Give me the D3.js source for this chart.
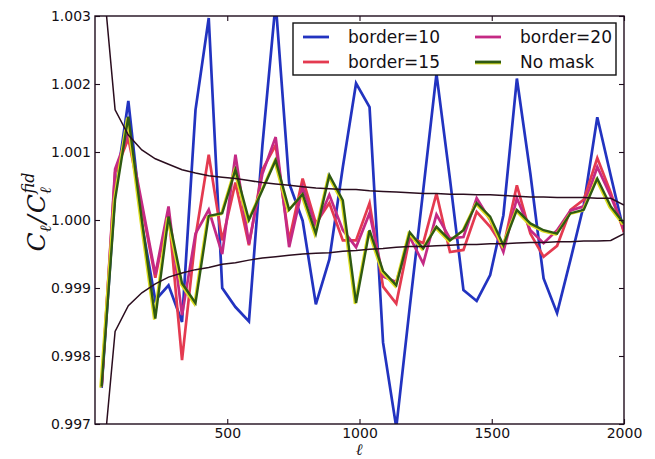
<!DOCTYPE html>
<html><head><meta charset="utf-8">
<script src="https://cdn.jsdelivr.net/npm/d3@7"></script>
<style>html,body{margin:0;padding:0;background:#fff;}svg{display:block;}</style>
</head><body>
<svg id="chart" width="655" height="459"></svg>
<script>
const ell = [25,76,126,177,228,278,329,380,430,481,531,582,633,683,734,785,835,886,937,987,1038,1089,1139,1190,1241,1291,1342,1393,1443,1494,1544,1595,1646,1696,1747,1798,1848,1899,1950,2000];
const border10 = [0.99753,1.0004,1.00175,0.99995,0.99882,0.99904,0.9985,1.00162,1.00297,0.999,0.99872,0.99851,1.0011,1.0032,1.00054,0.99999,0.99876,0.99942,1.00078,1.00201,1.00166,0.9982,0.99695,0.99872,1.00044,1.00215,1.0006,0.99897,0.99881,0.99919,1.00007,1.00208,1.00068,0.99914,0.99863,0.99942,1.00022,1.00151,1.00065,0.99982];
const border15 = [0.99755,1.0007,1.0012,1.0002,0.99915,1.00012,0.99794,0.99975,1.00096,0.9997,1.00055,0.99963,1.00074,1.0011,0.9997,1.00061,0.99995,1.00025,0.9997,0.9997,1.00025,0.99902,0.99877,0.99975,0.99966,1.00039,0.99953,0.99956,1.00012,0.9999,0.9996,1.00051,0.9998,0.99946,0.99962,1.00015,1.0003,1.00091,1.0004,0.99982];
const border20 = [0.99755,1.00075,1.00128,1.00025,0.9992,1.0002,0.9986,0.9998,1.00015,0.9995,1.00096,0.99965,1.00068,1.00122,0.9996,1.00048,0.9999,1.00037,0.99985,0.9996,1.0001,0.99917,0.99909,0.99975,0.99936,1.00008,0.99973,0.99975,1.00032,1.0,0.99953,1.00032,0.99985,0.99966,0.99985,1.00014,1.0002,1.00078,1.00035,0.99987];
const noMask = [0.99755,1.0003,1.00152,1.0,0.99855,1.00005,0.99907,0.99878,1.00006,1.0001,1.00074,1.0,1.00044,1.00088,1.00015,1.00038,0.9998,1.00066,1.00029,0.99878,0.99985,0.99925,0.99904,0.99982,0.99958,0.9999,0.9997,0.99985,1.00025,1.00005,0.99963,1.00015,0.99995,0.99985,0.9998,1.0001,1.00015,1.00061,1.0002,0.99995];
const upperBand = [1.0038,1.00162,1.00125,1.00103,1.0009,1.00082,1.00074,1.00069,1.00065,1.00063,1.00061,1.00058,1.00055,1.00053,1.00051,1.00049,1.00047,1.00046,1.00045,1.00045,1.00043,1.00042,1.00041,1.0004,1.00039,1.00039,1.00038,1.00038,1.00037,1.00037,1.00036,1.00035,1.00034,1.00034,1.00033,1.00033,1.00033,1.00032,1.00032,1.00022];
const lowerBand = [0.9962,0.99836,0.99874,0.99893,0.99906,0.99916,0.99922,0.99927,0.9993,0.99935,0.99937,0.99941,0.99944,0.99946,0.99948,0.9995,0.99951,0.99952,0.99954,0.99955,0.99957,0.99958,0.9996,0.99961,0.99961,0.99962,0.99963,0.99964,0.99964,0.99965,0.99965,0.99966,0.99967,0.99967,0.99968,0.99968,0.99969,0.99969,0.9997,0.9998];
const xTicks = [500,1000,1500,2000];
const yTicks = [0.997,0.998,0.999,1.000,1.001,1.002,1.003];
const legendLabels = ["border=10","border=15","border=20","No mask"];
const colors = {b10:"#2233c0", b15:"#e43a50", b20:"#c42a84", nm:"#2f5a12", nmEdge:"#dede22", band:"#2a0d1e"};

(function(){
const svg = d3.select("#chart");
const L=95, R=624, T=16, B=424;
const x = d3.scaleLinear().domain([0,2000]).range([L,R]);
const y = d3.scaleLinear().domain([0.997,1.003]).range([B,T]);

svg.append("defs").append("clipPath").attr("id","clip")
  .append("rect").attr("x",L).attr("y",T).attr("width",R-L).attr("height",B-T);

const line = vals => d3.line().x((d,i)=>x(ell[i])).y(d=>y(d))(vals);
const g = svg.append("g").attr("clip-path","url(#clip)");

g.append("path").attr("d",line(border10)).attr("fill","none").attr("stroke",colors.b10).attr("stroke-width",2.7);
g.append("path").attr("d",line(border15)).attr("fill","none").attr("stroke",colors.b15).attr("stroke-width",2.7);
g.append("path").attr("d",line(border20)).attr("fill","none").attr("stroke",colors.b20).attr("stroke-width",2.7);
g.append("path").attr("d",line(noMask)).attr("fill","none").attr("stroke",colors.nmEdge).attr("stroke-width",2.4).attr("transform","translate(-1.2,1)");
g.append("path").attr("d",line(noMask)).attr("fill","none").attr("stroke",colors.nm).attr("stroke-width",2.4);
g.append("path").attr("d",line(upperBand)).attr("fill","none").attr("stroke",colors.band).attr("stroke-width",1.5);
g.append("path").attr("d",line(lowerBand)).attr("fill","none").attr("stroke",colors.band).attr("stroke-width",1.5);

svg.append("rect").attr("x",L).attr("y",T).attr("width",R-L).attr("height",B-T)
  .attr("fill","none").attr("stroke","#1e0c1c").attr("stroke-width",1.4);

const ax = svg.append("g");
const axBottom = d3.axisBottom(x).tickValues(xTicks).tickSize(-5).tickPadding(4).tickFormat(d3.format("d"));
const axTop = d3.axisTop(x).tickValues(xTicks).tickSize(-5).tickFormat("");
const axLeft = d3.axisLeft(y).tickValues(yTicks).tickSize(-5).tickPadding(4).tickFormat(d3.format(".3f"));
const axRight = d3.axisRight(y).tickValues(yTicks).tickSize(-5).tickFormat("");
[[axBottom,`translate(0,${B})`],[axTop,`translate(0,${T})`],[axLeft,`translate(${L},0)`],[axRight,`translate(${R},0)`]].forEach(([a,t])=>{
  const gg = ax.append("g").attr("transform",t).call(a);
  gg.select(".domain").remove();
  gg.selectAll("line").attr("stroke","#1e0c1c").attr("stroke-width",1.1);
  gg.selectAll("text").attr("font-size",14).attr("fill","#141014").attr("font-family","'DejaVu Sans', sans-serif");
});

svg.append("text").attr("x",359).attr("y",455).attr("text-anchor","middle")
  .attr("font-family","'DejaVu Serif', serif").attr("font-style","italic").attr("font-size",16).attr("fill","#141014").text("ℓ");
const yt = svg.append("text").attr("transform","translate(45,212) rotate(-90)").attr("text-anchor","middle")
  .attr("font-family","'DejaVu Serif', serif").attr("font-style","italic").attr("font-size",25).attr("fill","#141014");
yt.append("tspan").text("C");
yt.append("tspan").attr("font-size",16).attr("dy",6).text("ℓ");
yt.append("tspan").attr("dy",-6).attr("dx",2).text("/");
yt.append("tspan").attr("dx",2).text("C");
yt.append("tspan").attr("font-size",16).attr("dy",6).text("ℓ");
yt.append("tspan").attr("font-size",16).attr("dx",-6).attr("dy",-17).text("fid");

const lg = svg.append("g");
lg.append("rect").attr("x",293).attr("y",23).attr("width",323).attr("height",52)
  .attr("fill","#fff").attr("stroke","#111").attr("stroke-width",1.4);
const entries = [
  {label:legendLabels[0], c:colors.b10, col:0,row:0},
  {label:legendLabels[1], c:colors.b15, col:0,row:1},
  {label:legendLabels[2], c:colors.b20, col:1,row:0},
  {label:legendLabels[3], c:colors.nm, col:1,row:1, edge:true}
];
entries.forEach(e=>{
  const x0 = e.col===0 ? 303 : 475;
  const yy = e.row===0 ? 37 : 62;
  if(e.edge) lg.append("line").attr("x1",x0).attr("x2",x0+26).attr("y1",yy+1).attr("y2",yy+1).attr("stroke",colors.nmEdge).attr("stroke-width",2.8);
  lg.append("line").attr("x1",x0).attr("x2",x0+26).attr("y1",yy).attr("y2",yy).attr("stroke",e.c).attr("stroke-width",2.8);
  lg.append("text").attr("x",x0+45).attr("y",yy+6).attr("font-family","'DejaVu Sans', sans-serif")
    .attr("font-size",17).attr("fill","#141014").text(e.label);
});
})();
</script>
</body></html>
